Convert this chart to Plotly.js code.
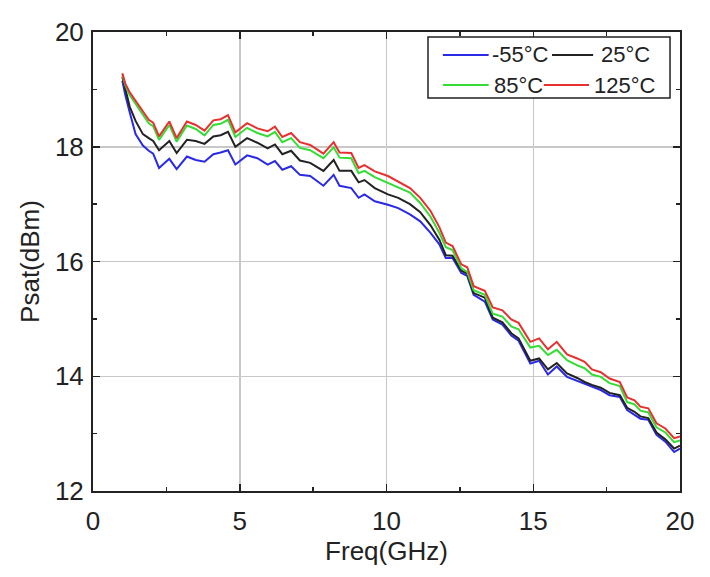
<!DOCTYPE html>
<html>
<head>
<meta charset="utf-8">
<script src="https://cdn.plot.ly/plotly-3.0.1.min.js"></script>
<style>html,body{margin:0;padding:0;background:#fff;}#chart{width:710px;height:577px;}</style>
</head>
<body>
<div id="chart"></div>
<script>
const freq = [1.0, 1.1, 1.25, 1.45, 1.7, 1.9, 2.05, 2.25, 2.6, 2.85, 3.2, 3.5, 3.8, 4.1, 4.35, 4.6, 4.85, 5.25, 5.6, 5.95, 6.2, 6.45, 6.75, 7.05, 7.4, 7.85, 8.2, 8.4, 8.8, 9.05, 9.25, 9.6, 10.05, 10.4, 10.8, 11.15, 11.5, 11.8, 12.02, 12.25, 12.55, 12.75, 12.97, 13.35, 13.62, 13.95, 14.25, 14.5, 14.9, 15.2, 15.5, 15.8, 16.15, 16.5, 16.75, 17.0, 17.3, 17.6, 17.95, 18.2, 18.45, 18.65, 18.92, 19.2, 19.5, 19.8, 20.0];

const psatM55 = [19.15, 18.9, 18.6, 18.22, 18.02,
  17.93, 17.88, 17.63, 17.79, 17.61,
  17.83, 17.77, 17.74, 17.87, 17.9,
  17.94, 17.69, 17.85, 17.8, 17.69,
  17.75, 17.6, 17.66, 17.51, 17.49,
  17.32, 17.51, 17.32, 17.28, 17.11,
  17.17, 17.05, 16.99, 16.93, 16.82,
  16.7, 16.5, 16.3, 16.06, 16.06,
  15.8, 15.75, 15.42, 15.3, 14.99,
  14.9, 14.71, 14.62, 14.22, 14.27,
  14.03, 14.17, 13.99, 13.92, 13.86,
  13.81, 13.76, 13.67, 13.64, 13.41,
  13.33, 13.26, 13.24, 12.98, 12.86,
  12.68, 12.74];

const psat25 = [19.22, 19.0, 18.7, 18.45, 18.22,
  18.15, 18.1, 17.94, 18.1, 17.89,
  18.12, 18.1, 18.05, 18.18, 18.2,
  18.26, 18.0, 18.15, 18.07, 17.97,
  18.04, 17.87, 17.93, 17.76, 17.72,
  17.58, 17.77, 17.58, 17.58, 17.38,
  17.42, 17.28, 17.17, 17.11, 17.0,
  16.86, 16.63, 16.38, 16.11, 16.1,
  15.84, 15.79, 15.45, 15.37, 15.02,
  14.94, 14.75, 14.66, 14.27, 14.31,
  14.12, 14.23, 14.05, 13.97, 13.9,
  13.85, 13.8, 13.71, 13.67, 13.45,
  13.38, 13.3, 13.27, 13.02, 12.9,
  12.74, 12.79];

const psat85 = [19.25, 19.07, 18.9, 18.74, 18.56,
  18.41, 18.36, 18.12, 18.38, 18.09,
  18.37, 18.31, 18.2, 18.38, 18.4,
  18.47, 18.17, 18.33, 18.24, 18.18,
  18.26, 18.08, 18.15, 17.98, 17.94,
  17.8, 17.99, 17.81, 17.8, 17.54,
  17.58, 17.47, 17.37, 17.28, 17.2,
  17.02, 16.78, 16.5, 16.25, 16.2,
  15.88, 15.82, 15.5, 15.42, 15.09,
  15.04, 14.87, 14.82, 14.5, 14.53,
  14.37, 14.46, 14.28, 14.19, 14.14,
  14.03, 13.99, 13.88, 13.83, 13.55,
  13.51, 13.4, 13.37, 13.11, 13.02,
  12.85, 12.88];

const psat125 = [19.28, 19.1, 18.95, 18.8, 18.62,
  18.47, 18.42, 18.18, 18.44, 18.15,
  18.44, 18.38, 18.28, 18.46, 18.48,
  18.55, 18.25, 18.41, 18.32, 18.27,
  18.35, 18.17, 18.24, 18.08, 18.03,
  17.88, 18.08, 17.9, 17.89, 17.63,
  17.68, 17.57, 17.49, 17.39, 17.28,
  17.11, 16.88, 16.6, 16.33, 16.27,
  15.95, 15.9, 15.57, 15.49, 15.2,
  15.15, 14.99, 14.93, 14.6, 14.66,
  14.47, 14.6, 14.38, 14.31, 14.25,
  14.12, 14.07, 13.96, 13.9, 13.63,
  13.58, 13.47, 13.44, 13.18, 13.09,
  12.92, 12.95];

const seriesNames = ['-55°C', '25°C', '85°C', '125°C'];
const seriesColors = ['#2a2ae6', '#222222', '#33dd33', '#e83030'];
const seriesData = [psatM55, psat25, psat85, psat125];

const traces = seriesData.map((ys, i) => ({
  x: freq, y: ys, type: 'scatter', mode: 'lines', name: seriesNames[i],
  line: {color: seriesColors[i], width: 2}
}));

const FONT = 'Liberation Sans, Arial, sans-serif';

// Legend drawn in paper coordinates (2 x 2 grid, as in the original)
const legendSlots = [
  {lx0: 0.596, lx1: 0.674, tx: 0.676, y: 0.950},
  {lx0: 0.782, lx1: 0.852, tx: 0.862, y: 0.950},
  {lx0: 0.596, lx1: 0.674, tx: 0.680, y: 0.8845},
  {lx0: 0.768, lx1: 0.845, tx: 0.850, y: 0.8845}
];
const shapes = [{type: 'rect', xref: 'paper', yref: 'paper', x0: 0.5707, x1: 0.983, y0: 0.856, y1: 0.989,
  line: {color: '#222', width: 1.5}, fillcolor: '#fff', layer: 'above'}];
const annotations = [];
legendSlots.forEach((s, i) => {
  shapes.push({type: 'line', xref: 'paper', yref: 'paper', x0: s.lx0, x1: s.lx1, y0: s.y, y1: s.y,
    line: {color: seriesColors[i], width: 2}, layer: 'above'});
  annotations.push({xref: 'paper', yref: 'paper', x: s.tx, y: s.y, xanchor: 'left', yanchor: 'middle',
    text: seriesNames[i], showarrow: false, font: {family: FONT, size: 22, color: '#222'}});
});

const axisCommon = {
  showline: true, linecolor: '#222', linewidth: 2, mirror: 'ticks',
  ticks: 'inside', ticklen: 7, tickwidth: 1.5, tickcolor: '#222',
  showgrid: true, gridcolor: '#c8c8c8', gridwidth: 1.5, zeroline: false,
  tickfont: {family: FONT, size: 26, color: '#222'}
};

const layout = {
  width: 710, height: 577,
  margin: {l: 93, r: 30, t: 32, b: 86},
  paper_bgcolor: '#fff', plot_bgcolor: '#fff',
  showlegend: false,
  shapes: shapes,
  annotations: annotations,
  xaxis: Object.assign({}, axisCommon, {
    range: [0, 20], dtick: 5, tick0: 0, ticklabelstandoff: 6,
    minor: {dtick: 2.5, ticks: 'inside', ticklen: 4, tickcolor: '#222', showgrid: false},
    title: {text: 'Freq(GHz)', standoff: 2, font: {family: FONT, size: 26, color: '#222'}}
  }),
  yaxis: Object.assign({}, axisCommon, {
    range: [12, 20], dtick: 2, tick0: 12, ticklabelstandoff: 2,
    minor: {dtick: 1, ticks: 'inside', ticklen: 4, tickcolor: '#222', showgrid: false},
    title: {text: 'Psat(dBm)', standoff: 8, font: {family: FONT, size: 26, color: '#222'}}
  })
};

Plotly.newPlot('chart', traces, layout, {displayModeBar: false, staticPlot: true});
</script>
</body>
</html>
